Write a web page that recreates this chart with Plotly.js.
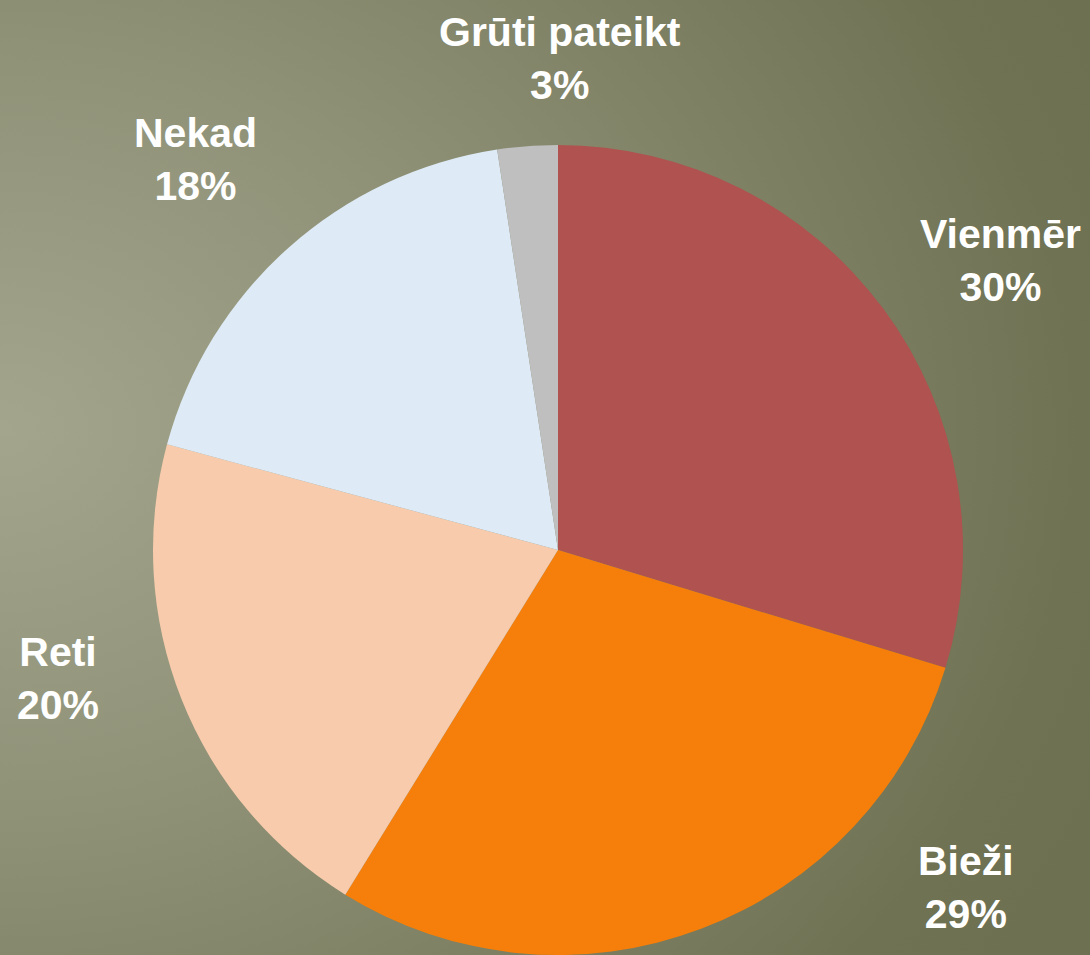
<!DOCTYPE html>
<html>
<head>
<meta charset="utf-8">
<script src="https://cdn.plot.ly/plotly-3.0.1.min.js"></script>
<style>
html, body { margin: 0; padding: 0; }
body {
  width: 1090px; height: 955px; overflow: hidden;
  background: radial-gradient(ellipse 110% 100% at 0% 45%, #a3a68d 0%, #8f9277 40%, #6f7253 90%, #6d7051 100%);
}
#chart { width: 1090px; height: 955px; }
</style>
</head>
<body>
<div id="chart"></div>
<script>
const categories = ["Vienmēr", "Bieži", "Reti", "Nekad", "Grūti pateikt"];
const shares = [29.7, 29.1, 20.4, 18.4, 2.4];
const shareLabels = ["30%", "29%", "20%", "18%", "3%"];
const sliceColors = ["#b0524f", "#f57f0a", "#f8cbad", "#deebf7", "#bfbfbf"];

// data-label placement (layout only), pixel centres on the 1090x955 page
const W = 1090, H = 955;
const labelAnchorsPx = [[1000, 261], [966, 887], [58, 678], [195, 159], [560, 59]];

const trace = {
  type: "pie",
  labels: categories,
  values: shares,
  textinfo: "none",
  sort: false,
  direction: "clockwise",
  rotation: 0,
  marker: { colors: sliceColors, line: { width: 0 } },
  domain: { x: [153 / W, 963 / W], y: [0, 810 / H] },
  hoverinfo: "none"
};

const labelFont = { family: "Liberation Sans, Arial, sans-serif", size: 41, color: "#ffffff", weight: "bold" };

const annotations = categories.map((c, i) => ({
  text: c + "<br>" + shareLabels[i],
  xref: "paper", yref: "paper",
  x: labelAnchorsPx[i][0] / W,
  y: 1 - labelAnchorsPx[i][1] / H,
  xanchor: "center", yanchor: "middle",
  showarrow: false,
  align: "center",
  font: labelFont
}));

const layout = {
  width: W,
  height: H,
  margin: { l: 0, r: 0, t: 0, b: 0 },
  paper_bgcolor: "rgba(0,0,0,0)",
  plot_bgcolor: "rgba(0,0,0,0)",
  showlegend: false,
  annotations: annotations
};

Plotly.newPlot("chart", [trace], layout, { displayModeBar: false, staticPlot: true });
</script>
</body>
</html>
